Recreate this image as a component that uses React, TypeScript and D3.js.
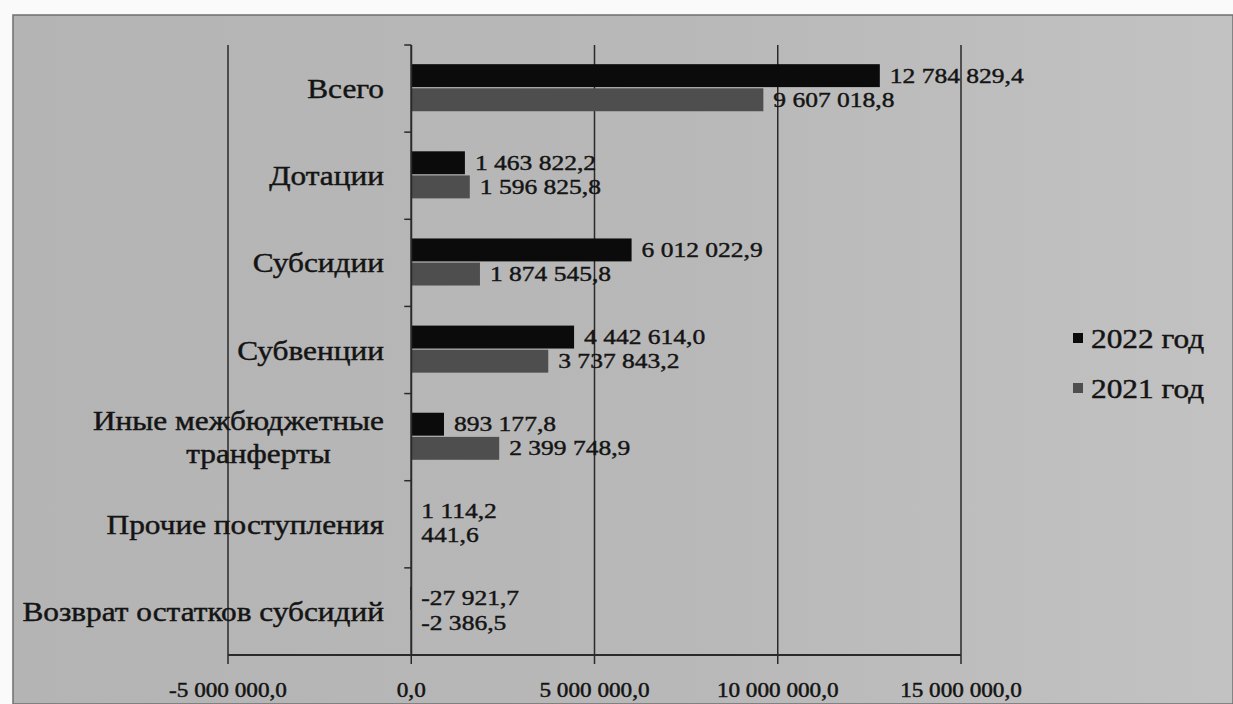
import { useEffect, useRef } from 'react';
import * as d3 from 'd3';

const categories = [
  'Всего',
  'Дотации',
  'Субсидии',
  'Субвенции',
  'Иные межбюджетные транферты',
  'Прочие поступления',
  'Возврат остатков субсидий',
];
// how the category labels break into lines
const categoryLines = [
  ['Всего'],
  ['Дотации'],
  ['Субсидии'],
  ['Субвенции'],
  ['Иные межбюджетные', 'транферты'],
  ['Прочие поступления'],
  ['Возврат остатков субсидий'],
];
const seriesNames = ['2022 год', '2021 год'];
const values2022 = [12784829.4, 1463822.2, 6012022.9, 4442614.0, 893177.8, 1114.2, -27921.7];
const values2021 = [9607018.8, 1596825.8, 1874545.8, 3737843.2, 2399748.9, 441.6, -2386.5];
const xTicks = [-5000000, 0, 5000000, 10000000, 15000000];

const W = 1233;
const H = 704;
const SX = 1.16; // the scan is stretched sideways a bit
const FONT = '"Liberation Serif", "Times New Roman", serif';
const colors = ['#0b0b0b', '#4e4e4e'];

const ru = d3.formatLocale({
  decimal: ',',
  thousands: ' ',
  grouping: [3],
  currency: ['', ''],
  minus: '-',
});
const fmt = ru.format(',.1f');

export default function App() {
  const svgRef = useRef<SVGSVGElement>(null);

  useEffect(() => {
    if (!svgRef.current) return;
    const svg = d3.select(svgRef.current);
    svg.selectAll('*').remove();

    const plot = { left: 228, right: 961, top: 45, bottom: 655 };

    const x = d3.scaleLinear()
      .domain([-5000000, 15000000])
      .range([plot.left, plot.right]);

    const y = d3.scaleBand()
      .domain(categories)
      .range([plot.top, plot.bottom])
      .padding(0);

    const bw = y.bandwidth();
    const inner = d3.scaleBand()
      .domain(seriesNames)
      .range([bw * 0.22, bw * 0.76])
      .paddingInner(0.05);

    // background of the scanned page
    const defs = svg.append('defs');
    const grad = defs.append('linearGradient').attr('id', 'bg').attr('x1', 0).attr('x2', 1);
    grad.append('stop').attr('offset', '0%').attr('stop-color', '#b4b4b4');
    grad.append('stop').attr('offset', '55%').attr('stop-color', '#b8b8b8');
    grad.append('stop').attr('offset', '100%').attr('stop-color', '#c2c2c2');

    svg.append('rect').attr('width', W).attr('height', H).attr('fill', '#fafafa');
    svg.append('rect')
      .attr('x', 13).attr('y', 15)
      .attr('width', W - 13).attr('height', H - 15)
      .attr('fill', 'url(#bg)')
      .attr('stroke', '#6f6f6f').attr('stroke-width', 1.5);

    const text = (g, tx, ty, str, size, anchor = 'start') =>
      g.append('text')
        .attr('transform', `translate(${tx},${ty}) scale(${SX},1)`)
        .attr('text-anchor', anchor)
        .style('font-family', FONT)
        .style('font-size', `${size}px`)
        .style('fill', '#141414')
        .style('stroke', '#141414')
        .style('stroke-width', 0.45)
        .text(str);

    // vertical grid lines
    svg.append('g')
      .selectAll('line')
      .data(xTicks.filter(t => t !== 0))
      .join('line')
      .attr('x1', d => x(d)).attr('x2', d => x(d))
      .attr('y1', plot.top).attr('y2', plot.bottom)
      .attr('stroke', '#2a2a2a').attr('stroke-width', 1.5);

    // bottom axis
    const axisG = svg.append('g');
    axisG.append('line')
      .attr('x1', plot.left).attr('x2', plot.right)
      .attr('y1', plot.bottom).attr('y2', plot.bottom)
      .attr('stroke', '#2a2a2a').attr('stroke-width', 2);
    axisG.selectAll('line.tick')
      .data(xTicks)
      .join('line')
      .attr('class', 'tick')
      .attr('x1', d => x(d)).attr('x2', d => x(d))
      .attr('y1', plot.bottom).attr('y2', plot.bottom + 9)
      .attr('stroke', '#2a2a2a').attr('stroke-width', 1.5);
    xTicks.forEach(t => text(axisG, x(t), 697, fmt(t), 20, 'middle'));

    // bars
    const series = [values2022, values2021];
    series.forEach((vals, si) => {
      svg.append('g')
        .selectAll('rect')
        .data(vals)
        .join('rect')
        .attr('x', d => x(Math.min(0, d)))
        .attr('width', d => Math.abs(x(d) - x(0)))
        .attr('y', (d, i) => y(categories[i]) + inner(seriesNames[si]))
        .attr('height', inner.bandwidth())
        .attr('fill', colors[si]);
    });

    // category axis
    const catG = svg.append('g');
    catG.append('line')
      .attr('x1', x(0)).attr('x2', x(0))
      .attr('y1', plot.top).attr('y2', plot.bottom)
      .attr('stroke', '#2a2a2a').attr('stroke-width', 2);
    catG.selectAll('line.tick')
      .data(categories.concat(['__end']))
      .join('line')
      .attr('class', 'tick')
      .attr('x1', x(0) - 7).attr('x2', x(0))
      .attr('y1', (d, i) => plot.top + i * bw)
      .attr('y2', (d, i) => plot.top + i * bw)
      .attr('stroke', '#2a2a2a').attr('stroke-width', 1.5);

    const labelRight = 384;
    categories.forEach((c, i) => {
      const cy = y(c) + bw / 2;
      const lines = categoryLines[i];
      if (lines.length === 1) {
        text(catG, labelRight, cy + 9.5, lines[0], 27, 'end');
      } else {
        const lh = 33;
        const first = text(catG, labelRight, cy + 9.5 - lh / 2, lines[0], 27, 'end');
        const w1 = (first.node() as SVGTextElement).getComputedTextLength() * SX;
        const mid = labelRight - w1 / 2 + 20;
        lines.slice(1).forEach((ln, k) => {
          text(catG, mid, cy + 9.5 - lh / 2 + lh * (k + 1), ln, 27, 'middle');
        });
      }
    });

    // value labels
    series.forEach((vals, si) => {
      const g = svg.append('g');
      vals.forEach((v, i) => {
        const cy = y(categories[i]) + inner(seriesNames[si]) + inner.bandwidth() / 2;
        text(g, x(Math.max(0, v)) + 10, cy + 7, fmt(v), 22, 'start');
      });
    });

    // legend
    const leg = svg.append('g');
    seriesNames.forEach((s, i) => {
      const ly = 348 + i * 50;
      leg.append('rect')
        .attr('x', 1073).attr('y', ly - 15)
        .attr('width', 10).attr('height', 10)
        .attr('fill', colors[i]);
      text(leg, 1091, ly, s, 27, 'start');
    });
  }, []);

  return (
    <svg
      ref={svgRef}
      width={W}
      height={H}
      style={{ position: 'absolute', left: 0, top: 0, display: 'block' }}
    />
  );
}
